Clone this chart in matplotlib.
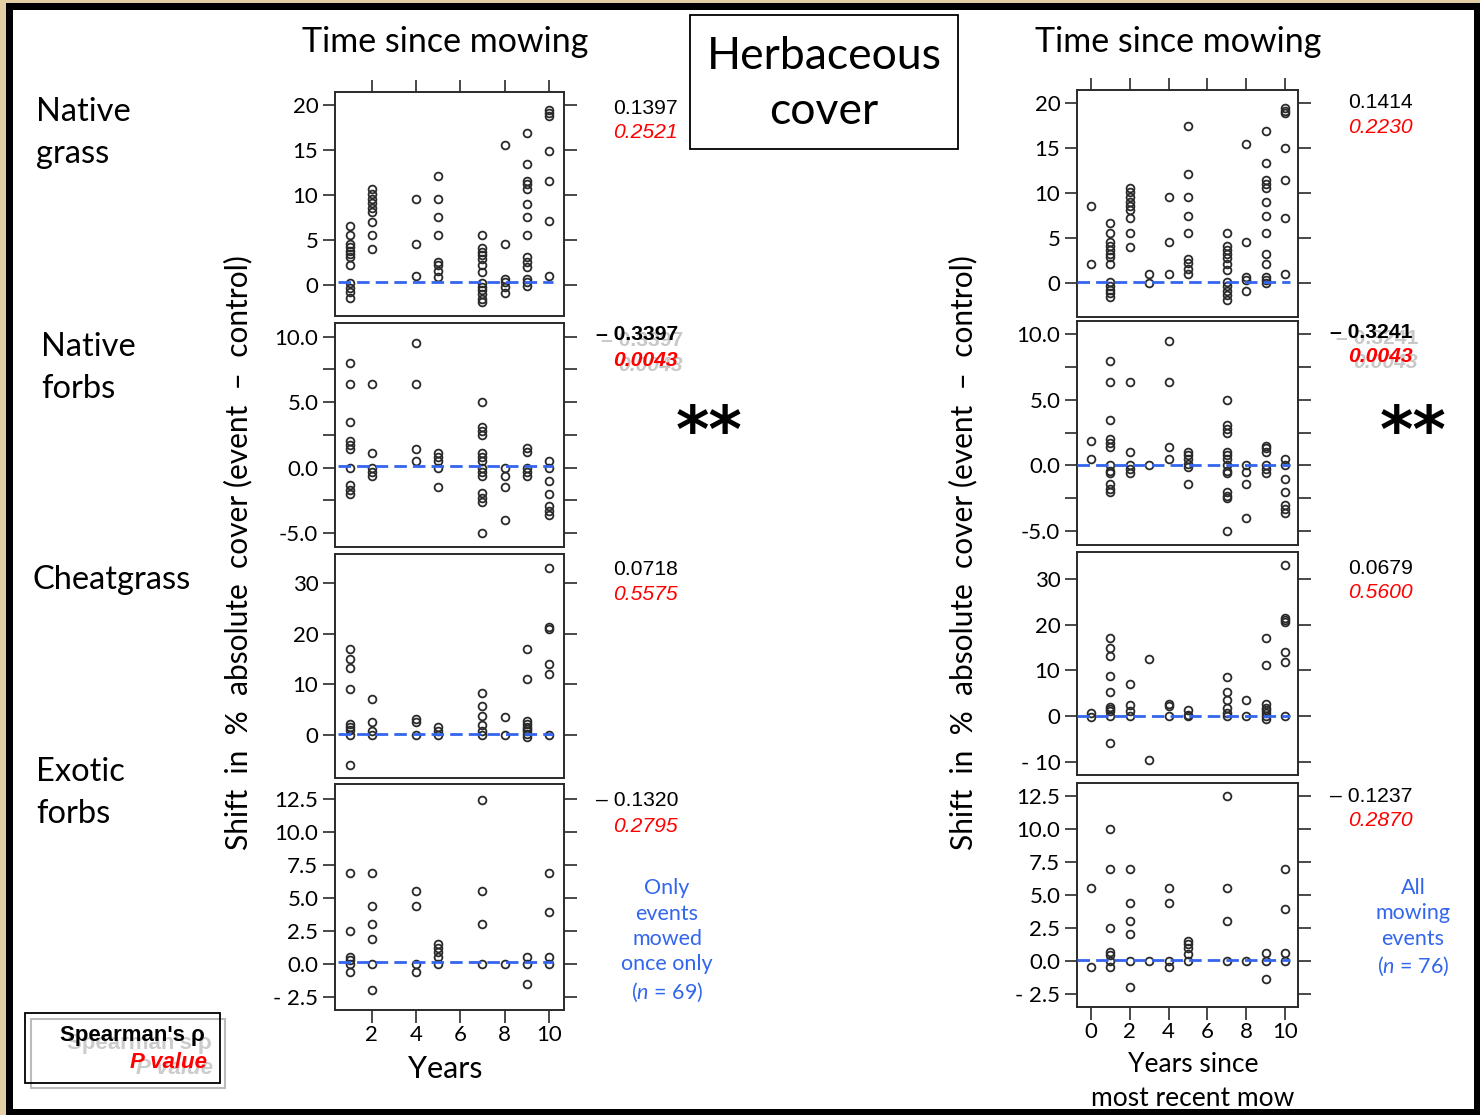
import matplotlib
matplotlib.use('Agg')
import matplotlib.pyplot as plt
from matplotlib.patches import Rectangle

# ---------------- data ----------------
# Left column: events mowed once only (n = 69)
grass_once = {1: [6.6, 5.6, 4.6, 4.2, 3.8, 3.5, 3.1, 2.2, 0.2, -0.3, -0.8, -1.4],
              2: [10.7, 10.1, 9.6, 9.1, 8.6, 8.1, 7.0, 5.6, 4.0],
              4: [9.6, 4.6, 1.0],
              5: [12.1, 9.6, 7.6, 5.6, 2.6, 2.2, 1.6, 0.9],
              7: [5.6, 4.1, 3.7, 3.3, 2.9, 2.2, 1.5, 0.2, -0.2, -0.6, -1.0, -1.5, -1.9],
              8: [15.6, 4.6, 0.7, 0.3, -0.2, -0.9],
              9: [16.9, 13.4, 11.6, 11.2, 10.7, 9.0, 7.6, 5.6, 3.1, 2.6, 2.0, 0.7, 0.3, -0.1],
              10: [19.4, 19.1, 18.8, 14.9, 11.6, 7.1, 1.0]}
forbs_once = {1: [8.0, 6.4, 3.5, 2.0, 1.7, 1.4, 0.0, -1.3, -1.7, -2.0],
              2: [6.4, 1.1, 0.0, -0.3, -0.6],
              4: [9.5, 6.4, 1.4, 0.5],
              5: [1.1, 0.8, 0.5, 0.0, -1.5],
              7: [5.0, 3.1, 2.8, 2.5, 1.1, 0.8, 0.5, 0.0, -0.3, -0.6, -1.9, -2.3, -2.6, -5.0],
              8: [0.0, -0.6, -1.5, -4.0],
              9: [1.5, 1.2, 0.0, -0.3, -0.6],
              10: [0.5, 0.0, -1.0, -2.0, -2.9, -3.3, -3.6]}
cheat_once = {1: [17.0, 15.0, 13.2, 9.1, 2.2, 1.6, 1.0, 0.0, -5.9],
              2: [7.1, 2.6, 0.7, 0.0],
              4: [3.1, 2.6, 0.0],
              5: [1.6, 0.7, 0.0],
              7: [8.4, 5.7, 3.8, 2.0, 0.7, 0.0],
              8: [3.6, 0.0],
              9: [17.0, 11.1, 2.8, 2.2, 1.6, 1.1, 0.7, 0.2, -0.4],
              10: [33.0, 21.3, 20.9, 14.0, 12.1, 0.0]}
exotic_once = {1: [6.9, 2.5, 0.5, 0.3, 0.0, -0.6],
               2: [6.9, 4.4, 3.0, 1.9, 0.0, -2.0],
               4: [5.5, 4.4, 0.0, -0.6],
               5: [1.5, 1.2, 0.9, 0.5, 0.0],
               7: [12.4, 5.5, 3.0, 0.0],
               8: [0.0],
               9: [0.5, 0.0, -1.5],
               10: [6.9, 3.9, 0.5, 0.0]}

# Right column: all mowing events (n = 76)
grass_all = {0: [8.5, 2.1],
             1: [6.6, 5.5, 4.5, 4.1, 3.6, 3.2, 2.9, 2.1, 0.1, -0.4, -0.8, -1.2, -1.6],
             2: [10.6, 10.1, 9.6, 9.0, 8.5, 8.1, 7.2, 5.5, 4.0],
             3: [1.0, 0.0],
             4: [9.6, 4.5, 1.0],
             5: [17.5, 12.1, 9.6, 7.4, 5.5, 2.6, 2.2, 1.5, 0.9],
             7: [5.5, 4.1, 3.6, 3.2, 2.7, 2.1, 1.4, 0.1, -0.4, -0.9, -1.4, -2.0],
             8: [15.5, 4.5, 0.6, 0.3, -1.0],
             9: [16.9, 13.4, 11.5, 11.0, 10.6, 9.0, 7.4, 5.5, 3.2, 2.1, 0.6, 0.3, -0.1],
             10: [19.5, 19.2, 18.9, 15.0, 11.5, 7.2, 1.0]}
forbs_all = {0: [1.9, 0.5],
             1: [8.0, 6.4, 3.5, 2.0, 1.7, 1.4, 0.0, -0.4, -0.6, -1.4, -1.8, -2.0],
             2: [6.4, 1.0, 0.0, -0.3, -0.6],
             3: [0.0],
             4: [9.5, 6.4, 1.4, 0.5],
             5: [1.0, 0.8, 0.5, 0.1, -0.1, -1.4],
             7: [5.0, 3.1, 2.8, 2.5, 1.0, 0.8, 0.5, 0.0, -0.4, -0.6, -2.0, -2.3, -2.5, -5.0],
             8: [0.0, -0.5, -1.4, -4.0],
             9: [1.5, 1.3, 1.0, 0.0, -0.3, -0.6],
             10: [0.5, 0.0, -1.0, -2.0, -3.0, -3.3, -3.6]}
cheat_all = {0: [0.7, -0.2],
             1: [17.0, 14.9, 13.1, 8.8, 5.4, 2.1, 1.6, 1.1, 0.0, -5.9],
             2: [7.0, 2.5, 1.1, 0.0],
             3: [12.5, -9.6],
             4: [2.7, 2.2, 0.0],
             5: [1.4, 0.3, 0.0],
             7: [8.5, 5.4, 3.6, 1.9, 0.7, 0.0],
             8: [3.6, 0.0],
             9: [17.0, 11.1, 2.7, 1.9, 1.3, 0.7, 0.0, -0.5],
             10: [32.9, 21.5, 21.0, 20.5, 14.1, 11.8, 0.0]}
exotic_all = {0: [5.5, -0.5],
              1: [10.0, 7.0, 2.5, 0.7, 0.4, 0.0, -0.5],
              2: [7.0, 4.4, 3.0, 2.0, 0.0, -2.0],
              3: [0.0],
              4: [5.5, 4.4, 0.0, -0.5],
              5: [1.5, 1.3, 1.0, 0.5, 0.0],
              7: [12.5, 5.5, 3.0, 0.0],
              8: [0.0],
              9: [0.6, 0.0, -1.4],
              10: [7.0, 3.9, 0.6, 0.0]}

trend_once = [0.35, 0.1, 0.2, 0.12]
trend_all = [0.05, 0.05, 0.0, 0.05]

row_labels = ["Native\ngrass", "Native\nforbs", "Cheatgrass", "Exotic\nforbs"]
rho_once = ["0.1397", "\u2013 0.3397", "0.0718", "\u2013 0.1320"]
p_once = ["0.2521", "0.0043", "0.5575", "0.2795"]
rho_all = ["0.1414", "\u2013 0.3241", "0.0679", "\u2013 0.1237"]
p_all = ["0.2230", "0.0043", "0.5600", "0.2870"]
signif = [False, True, False, False]

yt_grass = [0, 5, 10, 15, 20]
yl_grass = ["0", "5", "10", "15", "20"]
yt_forbs = [-5, -2.5, 0, 2.5, 5, 7.5, 10]
yl_forbs = ["-5.0", "", "0.0", "", "5.0", "", "10.0"]
yt_cheat_once = [0, 10, 20, 30]
yl_cheat_once = ["0", "10", "20", "30"]
yt_cheat_all = [-10, 0, 10, 20, 30]
yl_cheat_all = ["- 10", "0", "10", "20", "30"]
yt_exotic = [-2.5, 0, 2.5, 5, 7.5, 10, 12.5]
yl_exotic = ["- 2.5", "0.0", "2.5", "5.0", "7.5", "10.0", "12.5"]
xt_once = [2, 4, 6, 8, 10]
xt_all = [0, 2, 4, 6, 8, 10]

# ---------------- figure ----------------
W, H = 1480, 1115
plt.rcParams['font.family'] = ['Lato', 'DejaVu Sans']
plt.rcParams['mathtext.fontset'] = 'custom'
plt.rcParams['mathtext.it'] = 'Lato:italic'
plt.rcParams['mathtext.rm'] = 'Lato'
fig = plt.figure(figsize=(W / 100, H / 100), dpi=100)


def fx(x):
    return x / W


def fy(y):
    return 1 - y / H


def prect(x0, y0, x1, y1):
    return [x0 / W, 1 - y1 / H, (x1 - x0) / W, (y1 - y0) / H]


# frame
fig.add_artist(Rectangle((0, 0), 1, 1, transform=fig.transFigure, facecolor='#e3cfa6',
                         edgecolor='none', zorder=-30))
fig.add_artist(Rectangle((fx(6), fy(1115)), fx(1474), (1112) / H, transform=fig.transFigure,
                         facecolor='black', edgecolor='none', zorder=-20))
fig.add_artist(Rectangle((fx(13), fy(1109)), fx(1461), 1099 / H, transform=fig.transFigure,
                         facecolor='white', edgecolor='none', zorder=-10))

EDGE = '#2a2a2a'
BLUE = '#3366ee'


def panel(rect, data, ty, xlim, ylim, yticks, ylabels, xticks, top, bottom, line_x):
    ax = fig.add_axes(rect)
    for yr, vals in data.items():
        ax.plot([yr] * len(vals), vals, 'o', mfc='none', mec=EDGE, ms=5.6, mew=1.3,
                zorder=3, clip_on=False)
    ax.plot(line_x, [ty, ty], color=BLUE, lw=2.0, ls=(0, (4.5, 2.2)), zorder=4)
    ax.set_xlim(*xlim)
    ax.set_ylim(*ylim)
    ax.set_yticks(yticks)
    ax.set_yticklabels(ylabels)
    ax.set_xticks(xticks)
    ax.tick_params(axis='y', direction='out', length=9, width=1.2, color=EDGE,
                   left=True, right=True, labelleft=True, labelright=False,
                   labelsize=16, pad=3)
    ax.tick_params(axis='x', direction='out', length=9, width=1.2, color=EDGE,
                   top=top, bottom=bottom, labeltop=False, labelbottom=bottom,
                   labelsize=16, pad=2)
    for s in ax.spines.values():
        s.set_color(EDGE)
        s.set_linewidth(1.4)
    return ax


# left column
L0, L1 = 335, 564
once_rows = [(92, 316, (-3.44, 21.44), yt_grass, yl_grass, grass_once),
             (323, 547, (-6.05, 11.04), yt_forbs, yl_forbs, forbs_once),
             (554, 778, (-8.5, 35.8), yt_cheat_once, yl_cheat_once, cheat_once),
             (784, 1010, (-3.51, 13.64), yt_exotic, yl_exotic, exotic_once)]
for i, (t, b, yl, yt, ylab, d) in enumerate(once_rows):
    panel(prect(L0, t, L1, b), d, trend_once[i], (0.34, 10.68), yl, yt, ylab, xt_once,
          top=(i == 0), bottom=(i == 3), line_x=[0.49, 10.19])

# right column
R0, R1 = 1077, 1298
all_rows = [(90, 317, (-3.85, 21.5), yt_grass, yl_grass, grass_all),
            (321, 545, (-6.07, 11.02), yt_forbs, yl_forbs, forbs_all),
            (552, 775, (-12.77, 35.8), yt_cheat_all, yl_cheat_all, cheat_all),
            (783, 1007, (-3.52, 13.52), yt_exotic, yl_exotic, exotic_all)]
for i, (t, b, yl, yt, ylab, d) in enumerate(all_rows):
    panel(prect(R0, t, R1, b), d, trend_all[i], (-0.72, 10.67), yl, yt, ylab, xt_all,
          top=(i == 0), bottom=(i == 3), line_x=[-0.72, 10.26])

# headers
fig.text(fx(445), fy(42), "Time since mowing", ha='center', va='center', fontsize=24.5)
fig.text(fx(1178), fy(42), "Time since mowing", ha='center', va='center', fontsize=24.5)
fig.add_artist(Rectangle((fx(690), fy(149)), (958 - 690) / W, (149 - 15) / H,
                         transform=fig.transFigure, facecolor='white', edgecolor='black',
                         lw=1.3, zorder=2))
fig.text(fx(824), fy(84), "Herbaceous\ncover", ha='center', va='center', fontsize=32,
         linespacing=1.45, zorder=3)

# row labels
row_pos = [(36, 133), (41, 368), (32, 580), (36, 793)]
for (x, y), lab in zip(row_pos, row_labels):
    fig.text(fx(x), fy(y), lab, ha='left', va='center', fontsize=23.5, linespacing=1.5)

# y-axis titles
ylab_txt = "Shift  in  %  absolute  cover (event  \u2013  control)"
fig.text(fx(238), fy(553), ylab_txt, rotation=90, ha='center', va='center', fontsize=21.5)
fig.text(fx(963), fy(553), ylab_txt, rotation=90, ha='center', va='center', fontsize=21.5)

# stats
stat_y_once = [(108, 133), (335, 360), (569, 594), (801, 826)]
stat_y_all = [(103, 127), (333, 357), (568, 593), (796, 820)]
ARIAL = ['Liberation Sans', 'DejaVu Sans']
SFS = 15.2


def stats(xr, ys, rho, p, sig):
    if sig:
        fig.text(fx(xr + 5), fy(ys[0] + 6), rho, ha='right', va='center', fontsize=SFS,
                 color='#c8c8c8', family=ARIAL, fontweight='bold')
        fig.text(fx(xr + 5), fy(ys[1] + 6), p, ha='right', va='center', fontsize=SFS,
                 color='#c8c8c8', family=ARIAL, fontweight='bold', style='italic')
    fig.text(fx(xr), fy(ys[0]), rho, ha='right', va='center', fontsize=SFS,
             color='black', family=ARIAL, fontweight='bold' if sig else 'normal')
    fig.text(fx(xr), fy(ys[1]), p, ha='right', va='center', fontsize=SFS,
             color='#ff0000', family=ARIAL, style='italic',
             fontweight='bold' if sig else 'normal')


for i in range(4):
    stats(678, stat_y_once[i], rho_once[i], p_once[i], signif[i])
    stats(1413, stat_y_all[i], rho_all[i], p_all[i], signif[i])
    if signif[i]:
        fig.text(fx(709), fy(434), "**", ha='center', va='center', fontsize=46,
                 fontweight='bold', family=['DejaVu Sans'])
        fig.text(fx(1413), fy(434), "**", ha='center', va='center', fontsize=46,
                 fontweight='bold', family=['DejaVu Sans'])

# blue notes
fig.text(fx(667), fy(941), "Only\nevents\nmowed\nonce only\n($\\it{n}$ = 69)", ha='center',
         va='center', fontsize=15.5, color=BLUE, linespacing=1.33)
fig.text(fx(1413), fy(928), "All\nmowing\nevents\n($\\it{n}$ = 76)", ha='center',
         va='center', fontsize=15.5, color=BLUE, linespacing=1.33)

# x-axis titles
fig.text(fx(445), fy(1069), "Years", ha='center', va='center', fontsize=22)
fig.text(fx(1193), fy(1082), "Years since\nmost recent mow", ha='center', va='center',
         fontsize=19, linespacing=1.45)

# legend box
fig.add_artist(Rectangle((fx(31), fy(1088)), (225 - 31) / W, (1088 - 1019) / H,
                         transform=fig.transFigure, facecolor='none', edgecolor='#bbbbbb',
                         lw=1.5, zorder=2))
fig.add_artist(Rectangle((fx(25), fy(1083)), (220 - 25) / W, (1083 - 1013) / H,
                         transform=fig.transFigure, facecolor='none', edgecolor='black',
                         lw=1.3, zorder=3))
fig.text(fx(212), fy(1043), "Spearman's \u03c1", ha='right', va='center', fontsize=16,
         color='#cccccc', family=ARIAL, fontweight='bold', zorder=2)
fig.text(fx(213), fy(1069), "P value", ha='right', va='center', fontsize=16,
         color='#cccccc', family=ARIAL, fontweight='bold', style='italic', zorder=2)
fig.text(fx(205), fy(1036), "Spearman's \u03c1", ha='right', va='center', fontsize=16,
         color='black', family=ARIAL, fontweight='bold', zorder=3)
fig.text(fx(207), fy(1062), "P value", ha='right', va='center', fontsize=16,
         color='#ff0000', family=ARIAL, fontweight='bold', style='italic', zorder=3)

fig.savefig('out.png', dpi=100)
